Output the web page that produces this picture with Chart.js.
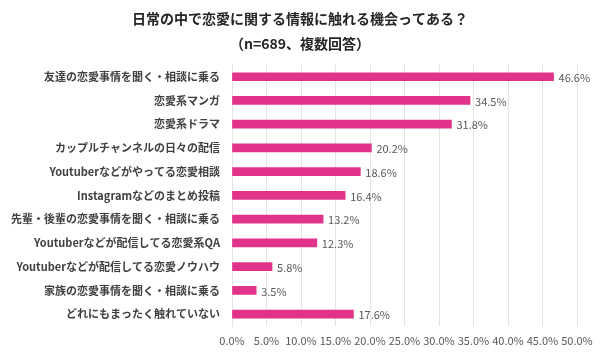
<!DOCTYPE html>
<html>
<head>
<meta charset="utf-8">
<style>
  html, body { margin: 0; padding: 0; background: #fff; }
  #loveChart { display: block; }
</style>
</head>
<body>
<canvas id="loveChart" width="600" height="353"></canvas>
<script src="https://cdn.jsdelivr.net/npm/chart.js"></script>
<script>
const titleLines = ['日常の中で恋愛に関する情報に触れる機会ってある？', '（n=689、複数回答）'];
const categories = [
    '友達の恋愛事情を聞く・相談に乗る',
    '恋愛系マンガ',
    '恋愛系ドラマ',
    'カップルチャンネルの日々の配信',
    'Youtuberなどがやってる恋愛相談',
    'Instagramなどのまとめ投稿',
    '先輩・後輩の恋愛事情を聞く・相談に乗る',
    'Youtuberなどが配信してる恋愛系QA',
    'Youtuberなどが配信してる恋愛ノウハウ',
    '家族の恋愛事情を聞く・相談に乗る',
    'どれにもまったく触れていない'
];
const percents = [46.6, 34.5, 31.8, 20.2, 18.6, 16.4, 13.2, 12.3, 5.8, 3.5, 17.6];

const fontFamily = '"Noto Sans CJK JP", "Noto Sans", sans-serif';

// value labels at the end of each bar
const valueLabels = {
    id: 'valueLabels',
    afterDatasetsDraw(chart) {
        let ctx = chart.ctx;
        let meta = chart.getDatasetMeta(0);
        ctx.save();
        ctx.font = '11px ' + fontFamily;
        ctx.fillStyle = '#595959';
        ctx.textAlign = 'left';
        ctx.textBaseline = 'middle';
        meta.data.forEach((bar, i) => {
            ctx.fillText(percents[i].toFixed(1) + '%', bar.x + 5, bar.y + 1);
        });
        ctx.restore();
    }
};

let ctx = document.getElementById('loveChart').getContext('2d');
let chart = new Chart(ctx, {
    type: 'bar',
    data: {
        labels: categories,
        datasets: [{
            label: '割合',
            data: percents,
            backgroundColor: '#E2338A',
            borderWidth: 0,
            barThickness: 8
        }]
    },
    options: {
        indexAxis: 'y',
        animation: false,
        responsive: false,
        layout: { padding: 0 },
        plugins: {
            legend: { display: false },
            tooltip: { enabled: false },
            title: {
                display: true,
                text: titleLines,
                color: '#262626',
                font: { family: fontFamily, size: 14, weight: 'bold', lineHeight: 1.78 },
                padding: { top: 6, bottom: 9 }
            }
        },
        scales: {
            x: {
                min: 0,
                max: 50,
                ticks: {
                    stepSize: 5,
                    padding: 8,
                    maxRotation: 0,
                    minRotation: 0,
                    autoSkip: false,
                    color: '#595959',
                    font: { family: fontFamily, size: 11 },
                    callback: v => v.toFixed(1) + '%'
                },
                grid: { color: '#e4e4e4', drawTicks: false },
                border: { display: false },
                afterFit(scale) {
                    scale.height = 27;
                    scale.paddingLeft = 0;
                    scale.paddingRight = 23;
                }
            },
            y: {
                ticks: {
                    padding: 12,
                    color: '#404040',
                    font: { family: fontFamily, size: 11, weight: 'bold' }
                },
                grid: { display: false, drawTicks: false },
                border: { display: true, color: '#e4e4e4' },
                afterFit(scale) { scale.width = 232; }
            }
        }
    },
    plugins: [valueLabels]
});
</script>
</body>
</html>
